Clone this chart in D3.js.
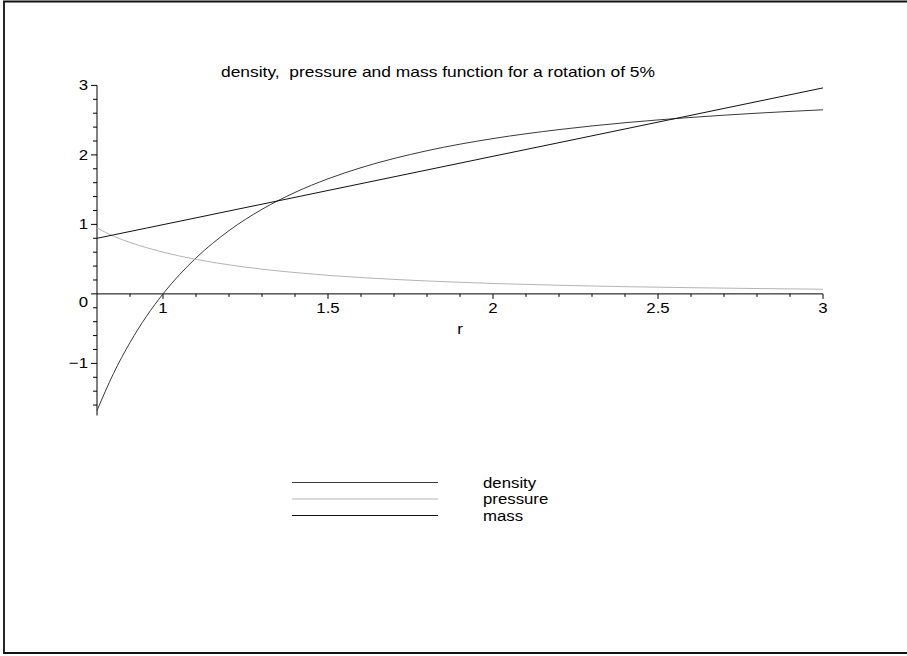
<!DOCTYPE html>
<html>
<head>
<meta charset="utf-8">
<script src="https://cdn.jsdelivr.net/npm/d3@7"></script>
<style>
  html, body { margin: 0; padding: 0; background: #fff; }
  text { font-family: "Liberation Sans", Arial, Helvetica, sans-serif; white-space: pre; }
</style>
</head>
<body>
<svg id="chart" width="907" height="656"></svg>
<script>
// ---- data ----
const rValues        = [0.8, 0.85, 0.9, 0.95, 1.0, 1.1, 1.2, 1.3, 1.4, 1.5, 1.6, 1.8, 2.0, 2.2, 2.4, 2.6, 2.8, 3.0];
const densityValues  = [-1.68, -1.145, -0.70, -0.322, 0.0, 0.517, 0.910, 1.217, 1.460, 1.656, 1.816, 2.060, 2.235, 2.364, 2.463, 2.539, 2.600, 2.649];
const pressureValues = [0.95, 0.83, 0.74, 0.665, 0.60, 0.497, 0.418, 0.356, 0.307, 0.267, 0.235, 0.186, 0.150, 0.124, 0.104, 0.089, 0.077, 0.067];
const massValues     = [0.80, 0.849, 0.898, 0.947, 0.996, 1.094, 1.193, 1.291, 1.389, 1.488, 1.586, 1.783, 1.980, 2.176, 2.373, 2.570, 2.767, 2.964];
const seriesNames    = ["density", "pressure", "mass"];
const seriesColors   = ["#3a3a3a", "#b4b4b4", "#111111"];
const xTickValues    = [1, 1.5, 2, 2.5, 3];
const xTickLabels    = ["1", "1.5", "2", "2.5", "3"];
const yTickValues    = [-1, 0, 1, 2, 3];
const yTickLabels    = ["\u22121", "0", "1", "2", "3"];
const titleText      = "density,  pressure and mass function for a rotation of 5%";
const xLabel         = "r";

const svg = d3.select("#chart");
const FS = 15, SX = 1.12;

// helper: horizontally widened text
function label(px, py, str, anchor) {
  return svg.append("text")
    .attr("transform", `translate(${px},${py}) scale(${SX},1)`)
    .attr("text-anchor", anchor || "start").attr("font-size", FS).text(str);
}

// frame
svg.append("path").attr("d", "M907,1.5H4V653H907")
  .attr("fill", "none").attr("stroke", "#111").attr("stroke-width", 1.8);

const x = d3.scaleLinear().domain([0.8, 3]).range([97, 823]);
const y = d3.scaleLinear().domain([-1.75, 3]).range([415.5, 85.4]);

// x axis
const gx = svg.append("g");
gx.append("line").attr("x1", x(0.8)).attr("x2", x(3)).attr("y1", y(0)).attr("y2", y(0))
  .attr("stroke", "#000").attr("stroke-width", 1);
const xMinor = d3.range(9, 31).map(d => d / 10);
gx.selectAll("line.minor").data(xMinor).join("line").attr("class", "minor")
  .attr("x1", d => x(d)).attr("x2", d => x(d))
  .attr("y1", y(0)).attr("y2", d => y(0) + (xTickValues.some(t => Math.abs(t - d) < 1e-9) ? 5 : 3))
  .attr("stroke", "#000").attr("stroke-width", 1);
xTickValues.forEach((d, i) => label(x(d), y(0) + 19, xTickLabels[i], "middle"));
label(460, 334, xLabel, "middle");

// y axis
const gy = svg.append("g");
gy.append("line").attr("x1", x(0.8)).attr("x2", x(0.8)).attr("y1", y(-1.75)).attr("y2", y(3))
  .attr("stroke", "#000").attr("stroke-width", 1);
const yMinor = d3.range(-8, 16).map(d => d / 5);
gy.selectAll("line.minor").data(yMinor).join("line").attr("class", "minor")
  .attr("y1", d => y(d)).attr("y2", d => y(d))
  .attr("x1", x(0.8)).attr("x2", d => x(0.8) - (yTickValues.some(t => Math.abs(t - d) < 1e-9) ? 6 : 4))
  .attr("stroke", "#000").attr("stroke-width", 1);
yTickValues.forEach((d, i) => label(88, y(d) + (d === 0 ? 13 : 5), yTickLabels[i], "end"));

// title
svg.append("text").attr("x", 221).attr("y", 77).attr("font-size", FS)
  .attr("textLength", 434).attr("lengthAdjust", "spacingAndGlyphs").text(titleText);

// curves
const allSeries = [densityValues, pressureValues, massValues];
const line = d3.line().x((d, i) => x(rValues[i])).y(d => y(d)).curve(d3.curveMonotoneX);
allSeries.forEach((vals, k) => {
  svg.append("path").datum(vals).attr("d", line)
    .attr("fill", "none").attr("stroke", seriesColors[k]).attr("stroke-width", 1);
});

// legend
const legendY = [482.5, 499, 515.5];
seriesNames.forEach((name, k) => {
  svg.append("line").attr("x1", 292).attr("x2", 438).attr("y1", legendY[k]).attr("y2", legendY[k])
    .attr("stroke", seriesColors[k]).attr("stroke-width", 1);
  label(483, legendY[k] + 5, name, "start");
});
</script>
</body>
</html>
